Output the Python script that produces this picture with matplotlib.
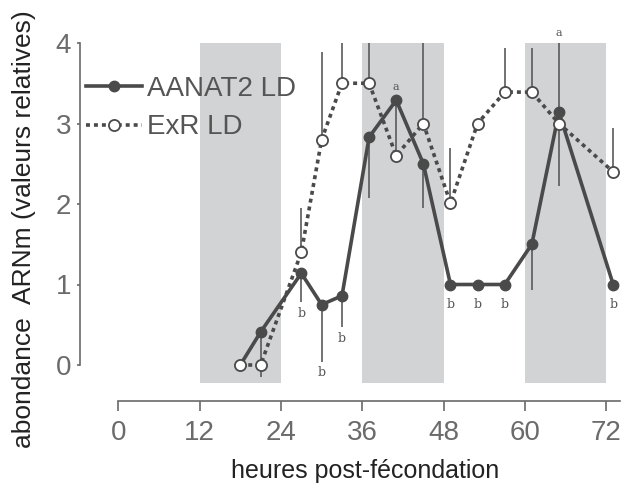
import numpy as np
import matplotlib
matplotlib.use('Agg')
import matplotlib.pyplot as plt

plt.rcParams['font.family'] = ['Liberation Sans', 'DejaVu Sans']

# sampling times (hours post-fertilisation)
hours = [18, 21, 27, 30, 33, 37, 41, 45, 49, 53, 57, 61, 65, 73]

# AANAT2 LD (filled circles, solid line)
aanat = [0, 0.41, 1.14, 0.75, 0.86, 2.83, 3.29, 2.5, 1.0, 1.0, 1.0, 1.5, 3.14, 1.0]
aanat_err_lo = [0, 0.56, 0.36, 0.71, 0.39, 0.76, 0.70, 0.55, 0, 0, 0, 0.57, 0.92, 0]
aanat_err_hi = [0, 0, 0, 0, 0, 0, 0, 0, 0, 0, 0, 0, 0.86, 0]
letters = ['', '', 'b', 'b', 'b', '', 'a', '', 'b', 'b', 'b', '', 'a', 'b']

# ExR LD (open circles, dotted line)
exr = [0, 0, 1.4, 2.8, 3.5, 3.5, 2.6, 3.0, 2.01, 3.0, 3.39, 3.39, 3.0, 2.4]
exr_err_hi = [0, 0, 0.55, 1.09, 0.5, 0.5, 0, 1.0, 0.69, 0, 0.55, 0.55, 0, 0.54]

# dark periods
nights = [(12, 24), (36, 48), (60, 72)]

xticks = [0, 12, 24, 36, 48, 60, 72]
yticks = [0, 1, 2, 3, 4]

W, H = 631, 484
fig = plt.figure(figsize=(W / 100, H / 100), dpi=100)

# pixel layout of the axes
px_x0, px_per_h = 118.25, 6.78
px_y0, px_per_u = 365.0, 80.5
left_px, bottom_px, top_px = 80, 401, 8
xmin = (left_px - px_x0) / px_per_h
xmax = 74.5
ymin = (px_y0 - bottom_px) / px_per_u
ymax = (px_y0 - top_px) / px_per_u
right_px = px_x0 + xmax * px_per_h

ax = fig.add_axes([left_px / W, (H - bottom_px) / H,
                   (right_px - left_px) / W, (bottom_px - top_px) / H])
ax.set_xlim(xmin, xmax)
ax.set_ylim(ymin, ymax)

line_c = '#4a4a4a'
err_c = '#5a5a5a'
axis_c = '#6a6a6a'

for a, b in nights:
    ax.fill_betweenx([-0.22, 4.0], a, b, color='#d2d3d5', lw=0, zorder=0)

h = np.array(hours)
ya = np.array(aanat)
ye = np.array(exr)

# error bars (one-sided)
ax.vlines(h, ya - np.array(aanat_err_lo), ya + np.array(aanat_err_hi),
          color=err_c, lw=1.2, zorder=2)
ax.vlines(h, ye, ye + np.array(exr_err_hi), color=err_c, lw=1.2, zorder=2)

ax.plot(h, ya, '-', color=line_c, lw=2.6, marker='o', ms=7.5,
        mfc=line_c, mec=line_c, zorder=3, label='AANAT2 LD')
ax.plot(h, ye, linestyle=(0, (1.1, 1.1)), color=line_c, lw=2.6, marker='o',
        ms=8, mfc='white', mec=line_c, mew=1.3, zorder=4, label='ExR LD')

# significance letters
for x, y, lo, hi, t in zip(hours, aanat, aanat_err_lo, aanat_err_hi, letters):
    if not t:
        continue
    if t == 'b':
        off = -8 if lo > 0 else -14.5
        ax.annotate(t, (x, y - lo), xytext=(0, off), textcoords='offset points',
                    ha='center', va='center', fontsize=9, color='#555555',
                    family='DejaVu Serif')
    else:
        off = 7.5 if hi > 0 else 9.5
        ax.annotate(t, (x, y + hi), xytext=(0, off), textcoords='offset points',
                    ha='center', va='center', fontsize=8, color='#555555',
                    family='DejaVu Serif')

# axes styling
for s in ['top', 'right']:
    ax.spines[s].set_visible(False)
ax.spines['left'].set_bounds(0, 4)
ax.spines['bottom'].set_bounds(0, 74)
for s in ['left', 'bottom']:
    ax.spines[s].set_color(axis_c)
    ax.spines[s].set_linewidth(1.2)
ax.set_xticks(xticks)
ax.set_yticks(yticks)
ax.tick_params(axis='x', direction='out', length=7.5, width=1.2, color=axis_c,
               labelsize=20, labelcolor='#6b6b6b', pad=6)
ax.tick_params(axis='y', direction='out', length=2.5, width=1.2, color=axis_c,
               labelsize=20, labelcolor='#6b6b6b', pad=4)

fig.text(365 / W, 1 - 471 / H, 'heures post-fécondation', ha='center',
         va='center', fontsize=18, color='#222222')
fig.text(24 / W, 1 - 229 / H, 'abondance  ARNm (valeurs relatives)',
         ha='center', va='center', rotation=90, fontsize=19, color='#222222')

leg = ax.legend(loc='upper left', bbox_to_anchor=(86 / W, 1 - 76 / H),
                bbox_transform=fig.transFigure, frameon=False, fontsize=20,
                handlelength=2.0, handletextpad=0.2, labelspacing=0.45,
                borderpad=0, borderaxespad=0)
for t in leg.get_texts():
    t.set_color('#555555')

fig.savefig('out.png', dpi=100)
